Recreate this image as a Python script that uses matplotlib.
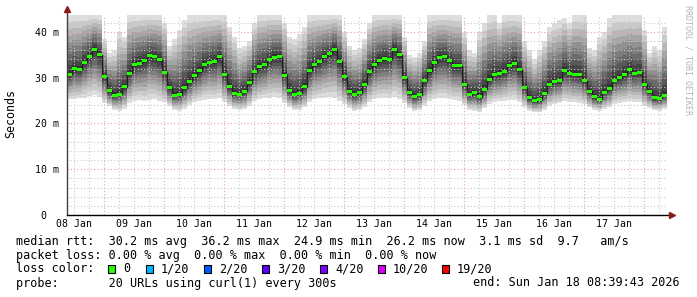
# smokeping style latency graph, 10 days, 2h steps
import numpy as np
import matplotlib
matplotlib.use('Agg')
import matplotlib.pyplot as plt
import matplotlib.dates as mdates
from matplotlib.patches import Rectangle
from datetime import datetime, timedelta

W, H = 697, 297
MONO = 'DejaVu Sans Mono'

t_start = datetime(2026, 1, 8, 8, 57)
step_h = 2
span_h = 240
ymax = 43.7

# median rtt in ms, one value per 2h step
median = [30.8, 32.0, 31.8, 33.4, 34.7, 36.2, 35.0, 30.2, 27.1, 26.2,
          26.4, 28.0, 31.0, 32.9, 33.2, 33.7, 34.8, 34.6, 33.9, 31.2,
          27.8, 26.2, 26.3, 27.8, 29.2, 30.4, 31.5, 32.9, 33.4, 33.6,
          34.6, 30.8, 28.0, 26.6, 26.4, 27.0, 28.9, 31.3, 32.4, 32.8,
          34.0, 34.5, 34.6, 30.5, 27.1, 26.4, 26.6, 28.0, 31.6, 32.9,
          33.6, 34.6, 35.2, 36.2, 33.6, 30.2, 27.0, 26.4, 26.7, 28.6,
          31.4, 32.9, 33.8, 34.2, 34.0, 36.2, 35.0, 30.0, 26.7, 25.9,
          26.3, 29.3, 31.5, 33.3, 34.4, 34.6, 33.7, 32.6, 32.6, 28.6,
          26.3, 26.7, 25.8, 27.5, 29.7, 30.7, 30.9, 31.4, 32.6, 33.2,
          31.7, 27.9, 25.6, 25.0, 25.2, 26.6, 28.6, 29.1, 29.4, 31.6,
          30.9, 30.8, 30.6, 29.3, 27.0, 25.8, 25.3, 26.8, 27.6, 29.4,
          30.0, 30.6, 31.7, 31.0, 31.2, 28.6, 27.0, 25.6, 25.5, 26.2]

# lowest ping per step (bottom of the smoke)
lo = [25.4, 25.3, 25.5, 25.6, 26.0, 26.2, 25.8, 24.5, 23.8, 23.0,
      22.8, 23.2, 24.5, 25.0, 25.2, 25.0, 25.2, 25.3, 25.0, 24.6,
      23.8, 23.0, 22.8, 23.2, 24.0, 24.6, 25.0, 25.2, 25.4, 25.3,
      25.5, 24.6, 23.8, 23.2, 23.0, 23.2, 23.8, 24.8, 25.3, 25.5,
      25.6, 25.8, 25.6, 24.5, 23.6, 22.9, 23.0, 23.5, 24.6, 25.3,
      25.5, 25.6, 25.8, 25.6, 25.0, 24.2, 23.4, 22.8, 22.9, 23.6,
      24.6, 25.3, 25.5, 25.6, 25.5, 25.8, 25.4, 24.5, 23.4, 22.7,
      22.9, 23.8, 24.8, 25.3, 25.5, 25.5, 25.3, 25.2, 25.0, 24.0,
      23.0, 22.8, 22.6, 23.3, 24.2, 24.6, 24.8, 25.0, 25.2, 25.2,
      24.6, 23.6, 22.8, 22.5, 22.5, 23.0, 23.8, 24.2, 24.4, 24.8,
      24.7, 24.6, 24.5, 24.2, 23.5, 23.0, 22.8, 23.2, 23.6, 24.2,
      24.5, 24.6, 24.8, 24.7, 24.6, 23.8, 23.3, 22.9, 22.8, 23.2]

# highest ping per step (top of the smoke, 43.7 = clipped at graph top)
hi = [43.7, 43.7, 43.7, 43.7, 43.7, 43.7, 43.7, 38.5, 35.5, 36.0,
      40.0, 39.0, 43.7, 43.7, 43.7, 43.7, 43.7, 43.7, 43.7, 42.0,
      37.0, 38.5, 40.5, 42.5, 43.7, 43.7, 43.7, 43.7, 43.7, 43.7,
      43.7, 43.7, 41.0, 39.0, 36.5, 37.0, 38.0, 42.0, 43.7, 43.7,
      43.7, 43.7, 43.7, 42.0, 39.0, 38.5, 39.5, 41.0, 43.7, 43.7,
      43.7, 43.7, 43.7, 43.7, 43.7, 40.0, 37.0, 36.0, 36.5, 38.5,
      42.0, 43.7, 43.7, 43.7, 43.7, 43.7, 43.7, 39.0, 35.0, 34.5,
      35.5, 38.0, 43.7, 43.7, 43.7, 43.7, 43.7, 43.7, 43.7, 40.0,
      36.0, 35.5, 40.0, 42.0, 43.7, 43.7, 42.0, 43.7, 43.7, 43.7,
      43.7, 38.0, 36.0, 34.0, 36.0, 38.0, 41.0, 42.0, 42.5, 43.0,
      42.0, 43.7, 43.7, 43.7, 36.5, 36.0, 39.0, 40.0, 43.0, 43.7,
      43.7, 43.7, 43.7, 43.7, 43.7, 40.5, 35.5, 37.0, 36.0, 41.0]

y_ticks = [0, 10, 20, 30, 40]
y_ticklabels = ['0  ', '10 m', '20 m', '30 m', '40 m']

loss_labels = ['0', '1/20', '2/20', '3/20', '4/20', '10/20', '19/20']
loss_colors = ['#26ff00', '#00b8ff', '#0059ff', '#5e00ff', '#7e00ff', '#dd00ff', '#ff0000']

line_rtt = 'median rtt:  30.2 ms avg  36.2 ms max  24.9 ms min  26.2 ms now  3.1 ms sd  9.7   am/s'
line_loss = 'packet loss: 0.00 % avg  0.00 % max  0.00 % min  0.00 % now'
line_probe = 'probe:       20 URLs using curl(1) every 300s'
line_end = 'end: Sun Jan 18 08:39:43 2026'

med = np.array(median)
lo = np.array(lo)
hi = np.array(hi)
n = len(med)
x_edges = mdates.date2num([t_start + timedelta(hours=step_h * k) for k in range(n + 1)])

def ext(a):
    return np.append(a, a[-1])

fig = plt.figure(figsize=(W / 100, H / 100), dpi=100)
fig.patch.set_facecolor('white')
ax = fig.add_axes([66.7 / W, 82 / H, 600 / W, 200 / H])
ax.set_facecolor('white')

# smoke: 10 nested bands, outer light -> inner dark (pings crowd near the median)
half = 10
for j in range(half):
    f = ((half - j) / half) ** 1.2
    g = int(190 / half * (half - 1 - j)) + 50
    col = '#%02x%02x%02x' % (g, g, g)
    lower = med - f * (med - lo)
    upper = med + f * (hi - med)
    ax.fill_between(x_edges, ext(lower), ext(upper), step='post', color=col,
                    linewidth=0, antialiased=False, zorder=1)

x0 = mdates.date2num(t_start)
x1 = mdates.date2num(t_start + timedelta(hours=span_h))
ax.set_xlim(x0, x1)
ax.set_ylim(0, ymax)

# grid drawn over the smoke like rrdtool does
for v in np.arange(2, ymax, 2):
    if v % 10 == 0:
        ax.axhline(v, color='#e8a0a0', lw=0.8, ls=(0, (1, 2)), zorder=3)
    else:
        ax.axhline(v, color='#c8c8c8', lw=0.8, ls=(0, (1, 2)), zorder=3)
t = datetime(2026, 1, 8, 12)
while t < t_start + timedelta(hours=span_h):
    xv = mdates.date2num(t)
    if t.hour == 0:
        ax.axvline(xv, color='#e8a0a0', lw=0.8, ls=(0, (1, 2)), zorder=3)
    else:
        ax.axvline(xv, color='#c8c8c8', lw=0.8, ls=(0, (1, 2)), zorder=3)
    t += timedelta(hours=6)

# median: dark step line plus loss coloured band
ax.step(x_edges, ext(med), where='post', color='#202020', lw=1, zorder=4)
ax.fill_between(x_edges, ext(med - 0.33), ext(med + 0.33), step='post',
                color=loss_colors[0], linewidth=0, antialiased=False, zorder=5)

for s in ax.spines.values():
    s.set_visible(False)
ax.plot([0, 0], [0, 1.025], transform=ax.transAxes, clip_on=False, color='#404040', lw=1, zorder=6)
ax.plot([0, 1.008], [0, 0], transform=ax.transAxes, clip_on=False, color='black', lw=1, zorder=6)
ax.plot(0, 1.03, marker='^', color='#8b1a1a', ms=4, transform=ax.transAxes, clip_on=False, zorder=7)
ax.plot(1.008, 0, marker='>', color='#8b1a1a', ms=4, transform=ax.transAxes, clip_on=False, zorder=7)

ax.set_yticks(y_ticks)
ax.set_yticklabels(y_ticklabels, fontfamily=MONO, fontsize=7.1)
noons = [datetime(2026, 1, d, 12) for d in range(8, 18)]
ax.set_xticks(mdates.date2num(noons))
ax.set_xticklabels([d.strftime('%d %b') for d in noons], fontfamily=MONO, fontsize=7.1)
ax.tick_params(axis='y', length=0, pad=5.3)
ax.tick_params(axis='x', length=0, pad=2.9)

fig.text(11 / W, 1 - 114 / H, 'Seconds', rotation=90, ha='center', va='center',
         fontfamily=MONO, fontsize=8.4)
fig.text(688 / W, 1 - 60 / H, 'RRDTOOL / TOBI OETIKER', rotation=270, ha='center', va='center',
         fontfamily=MONO, fontsize=6, color='#b4b4b4')

fs = 8.45
fig.text(16 / W, 1 - 241 / H, line_rtt, va='center', fontfamily=MONO, fontsize=fs)
fig.text(16 / W, 1 - 255 / H, line_loss, va='center', fontfamily=MONO, fontsize=fs)
fig.text(16 / W, 1 - 269 / H, 'loss color:', va='center', fontfamily=MONO, fontsize=fs)
fig.text(16 / W, 1 - 283 / H, line_probe, va='center', fontfamily=MONO, fontsize=fs)
fig.text(680 / W, 1 - 283 / H, line_end, va='center', ha='right', fontfamily=MONO, fontsize=fs)

box_x = [108, 146, 204, 262, 320, 378, 442]
for bx, lab, col in zip(box_x, loss_labels, loss_colors):
    fig.patches.append(Rectangle((bx / W, 1 - 273 / H), 7 / W, 8 / H, transform=fig.transFigure,
                                 facecolor=col, edgecolor='black', lw=0.8))
    fig.text((bx + 15) / W, 1 - 269 / H, lab, va='center', fontfamily=MONO, fontsize=fs)

fig.savefig('out.png', dpi=100)
